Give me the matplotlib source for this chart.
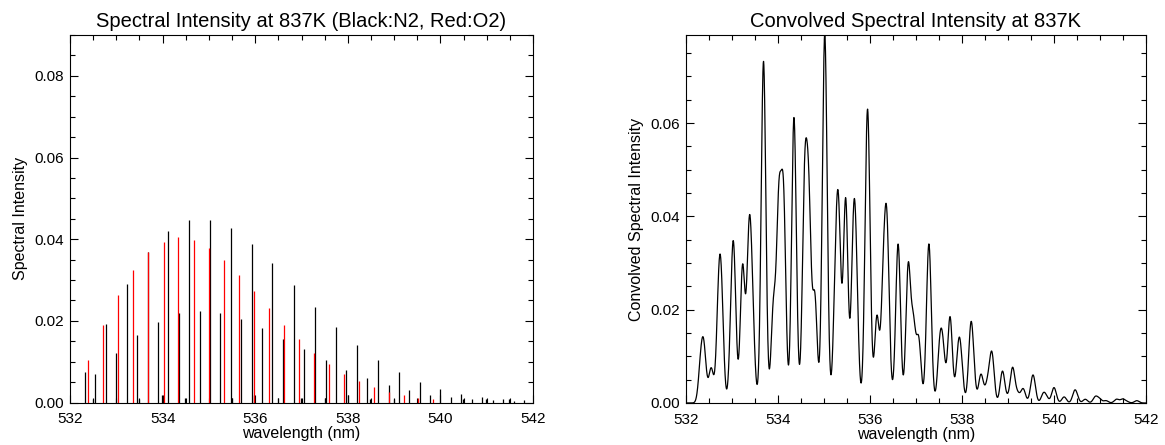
import matplotlib
matplotlib.use("Agg")
import matplotlib.pyplot as plt
import numpy as np
from matplotlib.ticker import MultipleLocator, FormatStrFormatter

plt.rcParams["font.family"] = ["Liberation Sans", "DejaVu Sans"]

# N2 stick lines (black)
n2_wavelength = [
    532.32, 532.50, 532.55, 532.77, 532.99, 533.23, 533.44, 533.50, 533.69, 533.90,
    533.98, 534.12, 534.36, 534.49, 534.58, 534.80, 535.03, 535.25, 535.47, 535.50,
    535.70, 535.93, 535.97, 536.15, 536.37, 536.49, 536.60, 536.83, 536.99, 537.06,
    537.29, 537.50, 537.52, 537.74, 537.96, 538.00, 538.19, 538.41, 538.49, 538.65,
    538.88, 539.00, 539.10, 539.33, 539.55, 539.77, 540.00, 540.22, 540.45, 540.49,
    540.68, 540.90, 540.99, 541.13, 541.36, 541.49, 541.58, 541.80,
]
n2_intensity = [
    0.0075, 0.0008, 0.0069, 0.0192, 0.0122, 0.0291, 0.0165, 0.0008, 0.0368, 0.0198,
    0.0018, 0.0420, 0.0218, 0.0010, 0.0446, 0.0224, 0.0446, 0.0219, 0.0427, 0.0010,
    0.0205, 0.0389, 0.0018, 0.0183, 0.0341, 0.0010, 0.0156, 0.0287, 0.0010, 0.0130,
    0.0233, 0.0010, 0.0103, 0.0184, 0.0080, 0.0018, 0.0140, 0.0059, 0.0008, 0.0103,
    0.0043, 0.0008, 0.0074, 0.0030, 0.0051, 0.0019, 0.0033, 0.0013, 0.0022, 0.0008,
    0.0008, 0.0013, 0.0008, 0.0005, 0.0008, 0.0008, 0.0003, 0.0005,
]

# O2 stick lines (red)
o2_wavelength = [
    532.39, 532.71, 533.04, 533.37, 533.68, 534.02, 534.34, 534.67, 535.00, 535.32,
    535.64, 535.97, 536.29, 536.62, 536.94, 537.26, 537.59, 537.91, 538.24, 538.56,
    538.88, 539.21, 539.51, 539.84,
]
o2_intensity = [
    0.0104, 0.0190, 0.0264, 0.0325, 0.0368, 0.0394, 0.0405, 0.0399, 0.0379, 0.0350,
    0.0313, 0.0274, 0.0231, 0.0191, 0.0155, 0.0122, 0.0094, 0.0070, 0.0052, 0.0037,
    0.0025, 0.0018, 0.0012, 0.0009,
]

temperature = 837
fwhm = 0.118  # instrument width (nm)

# convolve all sticks with a gaussian slit function
grid = np.linspace(532.0, 542.0, 4001)
sigma = fwhm / 2.3548
lines_wl = np.array(n2_wavelength + o2_wavelength)
lines_int = np.array(n2_intensity + o2_intensity)
conv = (lines_int[:, None] * np.exp(-0.5 * ((grid[None, :] - lines_wl[:, None]) / sigma) ** 2)).sum(axis=0)


def style_axes(ax, ymajor):
    ax.set_xlim(532, 542)
    ax.xaxis.set_major_locator(MultipleLocator(2))
    ax.xaxis.set_minor_locator(MultipleLocator(0.5))
    ax.yaxis.set_major_locator(MultipleLocator(ymajor))
    ax.yaxis.set_minor_locator(MultipleLocator(ymajor / 4))
    ax.yaxis.set_major_formatter(FormatStrFormatter("%.2f"))
    ax.tick_params(which="both", direction="in", top=True, right=True, width=0.8, labelsize=11)
    ax.tick_params(which="major", length=6)
    ax.tick_params(which="minor", length=3.5)
    ax.tick_params(axis="x", pad=7)
    ax.tick_params(axis="y", pad=4)
    for sp in ax.spines.values():
        sp.set_linewidth(0.8)
    ax.set_xlabel("wavelength (nm)", fontsize=11.5, labelpad=0)


fig = plt.figure(figsize=(11.65, 4.45), dpi=100)

ax1 = fig.add_axes([70 / 1165, 42.5 / 445, 463 / 1165, 367.5 / 445])
ax1.vlines(n2_wavelength, 0, n2_intensity, color="black", linewidth=0.9)
ax1.vlines(o2_wavelength, 0, o2_intensity, color="red", linewidth=0.9)
ax1.set_ylim(0, 0.09)
style_axes(ax1, 0.02)
ax1.set_ylabel("Spectral Intensity", fontsize=11.5, labelpad=5)
ax1.set_title(f"Spectral Intensity at {temperature}K (Black:N2, Red:O2)", fontsize=14.5, pad=6)

ax2 = fig.add_axes([686 / 1165, 42 / 445, 460 / 1165, 368 / 445])
ax2.plot(grid, conv, color="black", linewidth=0.9)
ax2.set_ylim(0, conv.max())
style_axes(ax2, 0.02)
ax2.set_ylabel("Convolved Spectral Intensity", fontsize=11.5, labelpad=5)
ax2.set_title(f"Convolved Spectral Intensity at {temperature}K", fontsize=14.5, pad=6)

fig.savefig("out.png", dpi=100)
